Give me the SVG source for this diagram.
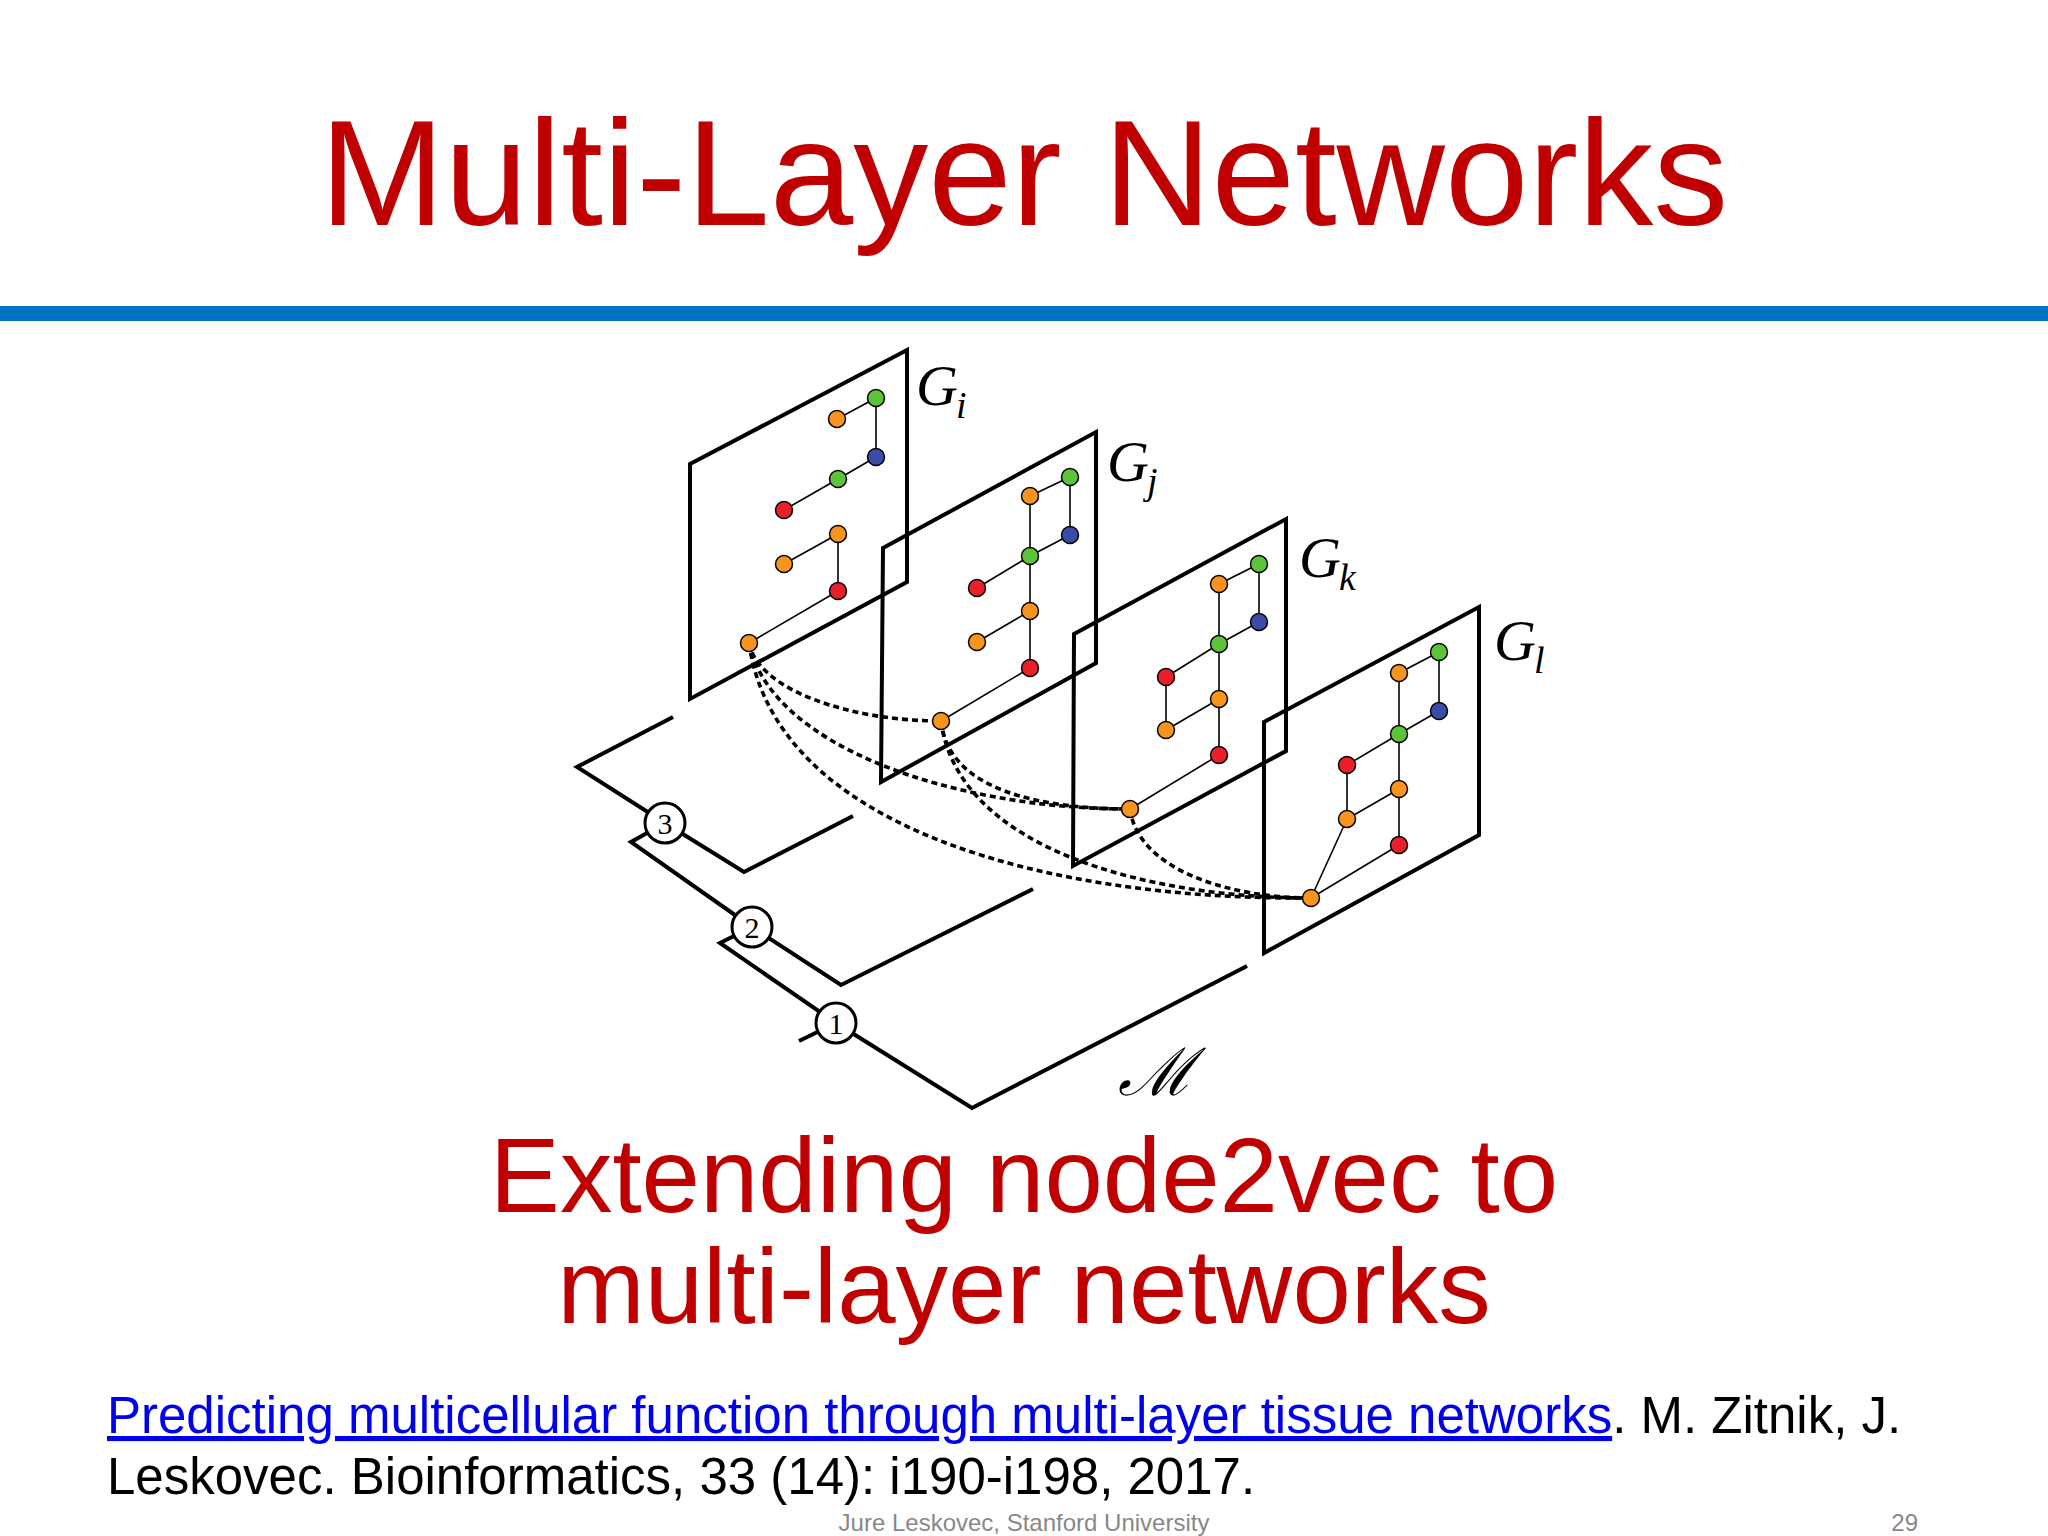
<svg xmlns="http://www.w3.org/2000/svg" width="2048" height="1536" viewBox="0 0 2048 1536">
<style>
.pl{fill:none;stroke:#000;stroke-width:4;stroke-linejoin:miter}
.e{stroke:#000;stroke-width:1.6}
.ds{fill:none;stroke:#000;stroke-width:3.6;stroke-dasharray:6 4}
.o{fill:#F7941D;stroke:#000;stroke-width:1.5}
.g{fill:#5DC33A;stroke:#000;stroke-width:1.5}
.b{fill:#3A4BA8;stroke:#000;stroke-width:1.5}
.r{fill:#E8202A;stroke:#000;stroke-width:1.5}
.lab{font-family:"Liberation Serif","DejaVu Serif",serif;font-style:italic;font-size:58px}
.sub{font-family:"Liberation Serif","DejaVu Serif",serif;font-style:italic;font-size:38px}
.cn{font-family:"Liberation Serif","DejaVu Serif",serif;font-size:30px;text-anchor:middle}
.red{font-family:"Liberation Sans",Arial,sans-serif;fill:#C00000;text-anchor:middle}
</style>
<rect width="2048" height="1536" fill="#fff"/>
<text class="red" x="1024" y="225" font-size="150">Multi-Layer Networks</text>
<rect x="0" y="306" width="2048" height="15" fill="#0070C0"/>

<g id="base">
<polyline class="pl" points="673,717 577,767 665,823 744,872 853,816"/>
<polyline class="pl" points="665,823 631,842 752,927 841,985 1033,889"/>
<polyline class="pl" points="752,927 720,943 836,1023 972,1108 1247,966"/>
<line class="pl" x1="799" y1="1041" x2="836" y2="1023"/>
<g id="c3"><circle cx="665" cy="823" r="20" fill="#fff" stroke="#000" stroke-width="3"/><text class="cn" x="665" y="834">3</text></g>
<g id="c2"><circle cx="752" cy="927" r="20" fill="#fff" stroke="#000" stroke-width="3"/><text class="cn" x="752" y="938">2</text></g>
<g id="c1"><circle cx="836" cy="1023" r="20" fill="#fff" stroke="#000" stroke-width="3"/><text class="cn" x="836" y="1034">1</text></g>
<text x="1118" y="1095" font-family="DejaVu Serif,serif" font-style="italic" font-size="66">ℳ</text>
</g>

<g id="Gi">
<polygon class="pl" points="690,464 907,350 907,582 690,699"/>
<text class="lab" x="916" y="405">G</text><text class="sub" x="956" y="418">i</text>
<g class="e"><line x1="837" y1="419" x2="876" y2="398"/><line x1="876" y1="398" x2="876" y2="457"/><line x1="876" y1="457" x2="838" y2="479"/><line x1="838" y1="479" x2="784" y2="510"/><line x1="838" y1="534" x2="784" y2="564"/><line x1="838" y1="534" x2="838" y2="591"/><line x1="838" y1="591" x2="749" y2="643"/></g>
<circle class="g" cx="876" cy="398" r="8.5"/><circle class="o" cx="837" cy="419" r="8.5"/><circle class="b" cx="876" cy="457" r="8.5"/><circle class="g" cx="838" cy="479" r="8.5"/><circle class="r" cx="784" cy="510" r="8.5"/><circle class="o" cx="838" cy="534" r="8.5"/><circle class="o" cx="784" cy="564" r="8.5"/><circle class="r" cx="838" cy="591" r="8.5"/>
</g>

<g id="Gj">
<polygon class="pl" points="883,548 1096,432 1096,663 881,782"/>
<text class="lab" x="1107" y="481">G</text><text class="sub" x="1147" y="494">j</text>
<g class="e"><line x1="1030" y1="496" x2="1070" y2="477"/><line x1="1070" y1="477" x2="1070" y2="535"/><line x1="1030" y1="496" x2="1030" y2="556"/><line x1="1070" y1="535" x2="1030" y2="556"/><line x1="1030" y1="556" x2="977" y2="588"/><line x1="1030" y1="556" x2="1030" y2="611"/><line x1="1030" y1="611" x2="977" y2="642"/><line x1="1030" y1="611" x2="1030" y2="668"/><line x1="1030" y1="668" x2="941" y2="721"/></g>
<circle class="g" cx="1070" cy="477" r="8.5"/><circle class="o" cx="1030" cy="496" r="8.5"/><circle class="b" cx="1070" cy="535" r="8.5"/><circle class="g" cx="1030" cy="556" r="8.5"/><circle class="r" cx="977" cy="588" r="8.5"/><circle class="o" cx="1030" cy="611" r="8.5"/><circle class="o" cx="977" cy="642" r="8.5"/><circle class="r" cx="1030" cy="668" r="8.5"/>
</g>

<g id="Gk">
<polygon class="pl" points="1074,634 1286,519 1286,751 1073,866"/>
<text class="lab" x="1299" y="577">G</text><text class="sub" x="1339" y="590">k</text>
<g class="e"><line x1="1219" y1="584" x2="1259" y2="564"/><line x1="1259" y1="564" x2="1259" y2="622"/><line x1="1219" y1="584" x2="1219" y2="644"/><line x1="1259" y1="622" x2="1219" y2="644"/><line x1="1219" y1="644" x2="1166" y2="677"/><line x1="1166" y1="677" x2="1166" y2="730"/><line x1="1219" y1="644" x2="1219" y2="699"/><line x1="1219" y1="699" x2="1166" y2="730"/><line x1="1219" y1="699" x2="1219" y2="755"/><line x1="1219" y1="755" x2="1130" y2="809"/></g>
<circle class="g" cx="1259" cy="564" r="8.5"/><circle class="o" cx="1219" cy="584" r="8.5"/><circle class="b" cx="1259" cy="622" r="8.5"/><circle class="g" cx="1219" cy="644" r="8.5"/><circle class="r" cx="1166" cy="677" r="8.5"/><circle class="o" cx="1219" cy="699" r="8.5"/><circle class="o" cx="1166" cy="730" r="8.5"/><circle class="r" cx="1219" cy="755" r="8.5"/>
</g>

<g id="Gl">
<polygon class="pl" points="1264,722 1479,607 1479,835 1264,953"/>
<text class="lab" x="1494" y="660">G</text><text class="sub" x="1534" y="673">l</text>
<g class="e"><line x1="1399" y1="673" x2="1439" y2="652"/><line x1="1439" y1="652" x2="1439" y2="711"/><line x1="1399" y1="673" x2="1399" y2="734"/><line x1="1439" y1="711" x2="1399" y2="734"/><line x1="1399" y1="734" x2="1347" y2="765"/><line x1="1347" y1="765" x2="1347" y2="819"/><line x1="1399" y1="734" x2="1399" y2="789"/><line x1="1399" y1="789" x2="1347" y2="819"/><line x1="1399" y1="789" x2="1399" y2="845"/><line x1="1347" y1="819" x2="1311" y2="898"/><line x1="1399" y1="845" x2="1311" y2="898"/></g>
<circle class="g" cx="1439" cy="652" r="8.5"/><circle class="o" cx="1399" cy="673" r="8.5"/><circle class="b" cx="1439" cy="711" r="8.5"/><circle class="g" cx="1399" cy="734" r="8.5"/><circle class="r" cx="1347" cy="765" r="8.5"/><circle class="o" cx="1399" cy="789" r="8.5"/><circle class="o" cx="1347" cy="819" r="8.5"/><circle class="r" cx="1399" cy="845" r="8.5"/>
</g>

<g id="connectors">
<path class="ds" d="M749,643 C758,690 850,721 941,721"/>
<path class="ds" d="M749,643 C770,745 950,809 1130,809"/>
<path class="ds" d="M749,643 C775,830 1050,900 1311,898"/>
<path class="ds" d="M941,721 C948,790 1040,809 1130,809"/>
<path class="ds" d="M941,721 C958,850 1150,898 1311,898"/>
<path class="ds" d="M1130,809 C1138,870 1230,898 1311,898"/>
</g>
<g id="bottomNodes">
<circle class="o" cx="749" cy="643" r="8.5"/><circle class="o" cx="941" cy="721" r="8.5"/><circle class="o" cx="1130" cy="809" r="8.5"/><circle class="o" cx="1311" cy="898" r="8.5"/>
</g>

<text class="red" x="1024" y="1212" font-size="105">Extending node2vec to</text>
<text class="red" x="1024" y="1323" font-size="105">multi-layer networks</text>

<g font-family="Liberation Sans,Arial,sans-serif" font-size="51">
<text x="107" y="1433"><tspan fill="#0000EE" text-decoration="underline">Predicting multicellular function through multi-layer tissue networks</tspan>. M. Zitnik, J.</text>
<text x="107" y="1494">Leskovec. Bioinformatics, 33 (14): i190-i198, 2017.</text>
</g>
<text x="1024" y="1531" font-family="Liberation Sans,Arial,sans-serif" font-size="24" fill="#888" text-anchor="middle">Jure Leskovec, Stanford University</text>
<text x="1918" y="1531" font-family="Liberation Sans,Arial,sans-serif" font-size="24" fill="#888" text-anchor="end">29</text>
</svg>
